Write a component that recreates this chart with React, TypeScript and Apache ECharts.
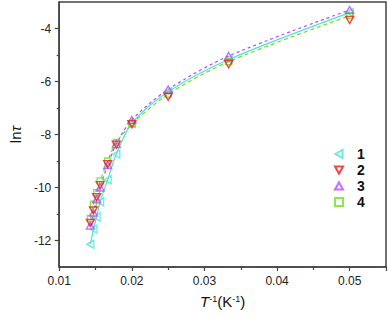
import React, { useEffect, useRef } from "react";
import * as echarts from "echarts";

// 1/T values (K^-1)
const invT = [0.01429, 0.01471, 0.01515, 0.01563, 0.01667, 0.01786, 0.02, 0.025, 0.03333, 0.05];
const lnTau1 = [-12.14, -11.57, -11.11, -10.54, -9.71, -8.74, -7.58, -6.39, -5.17, -3.40];
const lnTau2 = [-11.34, -10.86, -10.36, -9.91, -9.12, -8.38, -7.61, -6.58, -5.35, -3.68];
const lnTau3 = [-11.44, -10.95, -10.45, -10.0, -9.15, -8.36, -7.45, -6.30, -5.04, -3.30];
const lnTau4 = [-11.17, -10.63, -10.2, -9.75, -9.0, -8.3, -7.61, -6.48, -5.25, -3.52];
const seriesNames = ["1", "2", "3", "4"];
const xTicks = [0.01, 0.02, 0.03, 0.04, 0.05];
const yMajor = [-12, -10, -8, -6, -4];
const yMinor = [-11, -9, -7, -5];

const colors = ["#4fe3d3", "#f01a1a", "#b24cff", "#6de01c"];
const symbols = [
  "path://M0,5 L9,0 L9,10 Z",
  "path://M0,0 L10,0 L5,9 Z",
  "path://M5,0 L10,9 L0,9 Z",
  "rect",
];
const sizes: any[] = [[7, 8], [8, 7], [8, 7], 6];

const pairs = (ys: number[]) => invT.map((x, i) => [x, ys[i]]);

export default function App() {
  const ref = useRef<HTMLDivElement>(null);
  useEffect(() => {
    if (!ref.current) return;
    const chart = echarts.init(ref.current, undefined, { renderer: "svg" });
    const all = [lnTau1, lnTau2, lnTau3, lnTau4];
    const font = "'Liberation Sans', Arial, sans-serif";
    const axisColor = "#444";
    const lineSeries: any[] = [
      { idx: 0, type: "solid" },
      { idx: 3, type: [4, 3] },
      { idx: 2, type: [3, 3] },
    ].map((l) => ({
      type: "line",
      name: "fit" + seriesNames[l.idx],
      data: pairs(all[l.idx]),
      showSymbol: false,
      smooth: 0.3,
      silent: true,
      lineStyle: { color: colors[l.idx], width: 1.2, type: l.type },
      z: 1,
    }));
    const scatterSeries: any[] = [0, 3, 2, 1].map((i) => ({
      type: "scatter",
      name: seriesNames[i],
      data: pairs(all[i]),
      symbol: symbols[i],
      symbolSize: sizes[i],
      itemStyle: { color: "rgba(255,255,255,0)", borderColor: colors[i], borderWidth: 1.4 },
      z: 3,
    }));
    chart.setOption({
      animation: false,
      grid: { left: 51, top: 2, right: 3, bottom: 50, show: true, borderColor: axisColor, borderWidth: 1.5 },
      legend: {
        data: seriesNames,
        orient: "vertical",
        left: 329,
        top: 142,
        itemWidth: 8,
        itemHeight: 8,
        itemGap: 2,
        textStyle: { fontFamily: font, fontSize: 14, fontWeight: "bold", color: "#111", lineHeight: 14, padding: [0, 0, 0, 9] },
      },
      xAxis: {
        type: "value",
        min: 0.01,
        max: 0.055,
        interval: 0.01,
        name: "{i|T}{s|-1}{n|(K}{s|-1}{n|)}",
        nameLocation: "middle",
        nameGap: 27,
        nameTextStyle: {
          rich: {
            i: { fontFamily: font, fontSize: 15, fontStyle: "italic", color: "#111", verticalAlign: "bottom" },
            n: { fontFamily: font, fontSize: 15, color: "#111", verticalAlign: "bottom" },
            s: { fontFamily: font, fontSize: 9, color: "#111", verticalAlign: "top" },
          },
        },
        axisLine: { onZero: false, lineStyle: { color: axisColor, width: 1.5 } },
        axisTick: { show: true, inside: false, length: 4, lineStyle: { color: axisColor, width: 1.2 } },
        minorTick: { show: true, splitNumber: 2, length: 3, lineStyle: { color: axisColor, width: 1.2 } },
        splitLine: { show: false },
        axisLabel: {
          fontFamily: font,
          fontSize: 12,
          color: "#222",
          margin: 8,
          showMaxLabel: false,
          formatter: (v: number) => {
            const t = xTicks.find((k) => Math.abs(k - v) < 1e-9);
            return t !== undefined ? t.toFixed(2) : "";
          },
        },
      },
      yAxis: [
        {
          type: "value",
          min: -13,
          max: -3,
          interval: 1,
          name: "{n|ln}{i|τ}",
          nameLocation: "middle",
          nameGap: 32,
          nameRotate: 90,
          nameTextStyle: {
            rich: {
              n: { fontFamily: font, fontSize: 15, color: "#111" },
              i: { fontFamily: font, fontSize: 15, fontStyle: "italic", color: "#111" },
            },
          },
          axisLine: { onZero: false, lineStyle: { color: axisColor, width: 1.5 } },
          axisTick: { show: true, inside: false, length: 4.5, customValues: yMajor, lineStyle: { color: axisColor, width: 1.2 } },
          splitLine: { show: false },
          axisLabel: {
            fontFamily: font,
            fontSize: 12,
            color: "#222",
            margin: 8,
            customValues: yMajor,
          },
        },
        {
          type: "value",
          min: -13,
          max: -3,
          interval: 1,
          position: "left",
          axisLine: { show: false },
          axisTick: { show: true, inside: false, length: 2.5, customValues: yMinor, lineStyle: { color: axisColor, width: 1.2 } },
          splitLine: { show: false },
          axisLabel: { show: false },
        },
      ],
      series: [...lineSeries, ...scatterSeries],
    });
    return () => chart.dispose();
  }, []);
  return <div ref={ref} style={{ width: 389, height: 317, position: "absolute", left: 0, top: 0 }} />;
}
